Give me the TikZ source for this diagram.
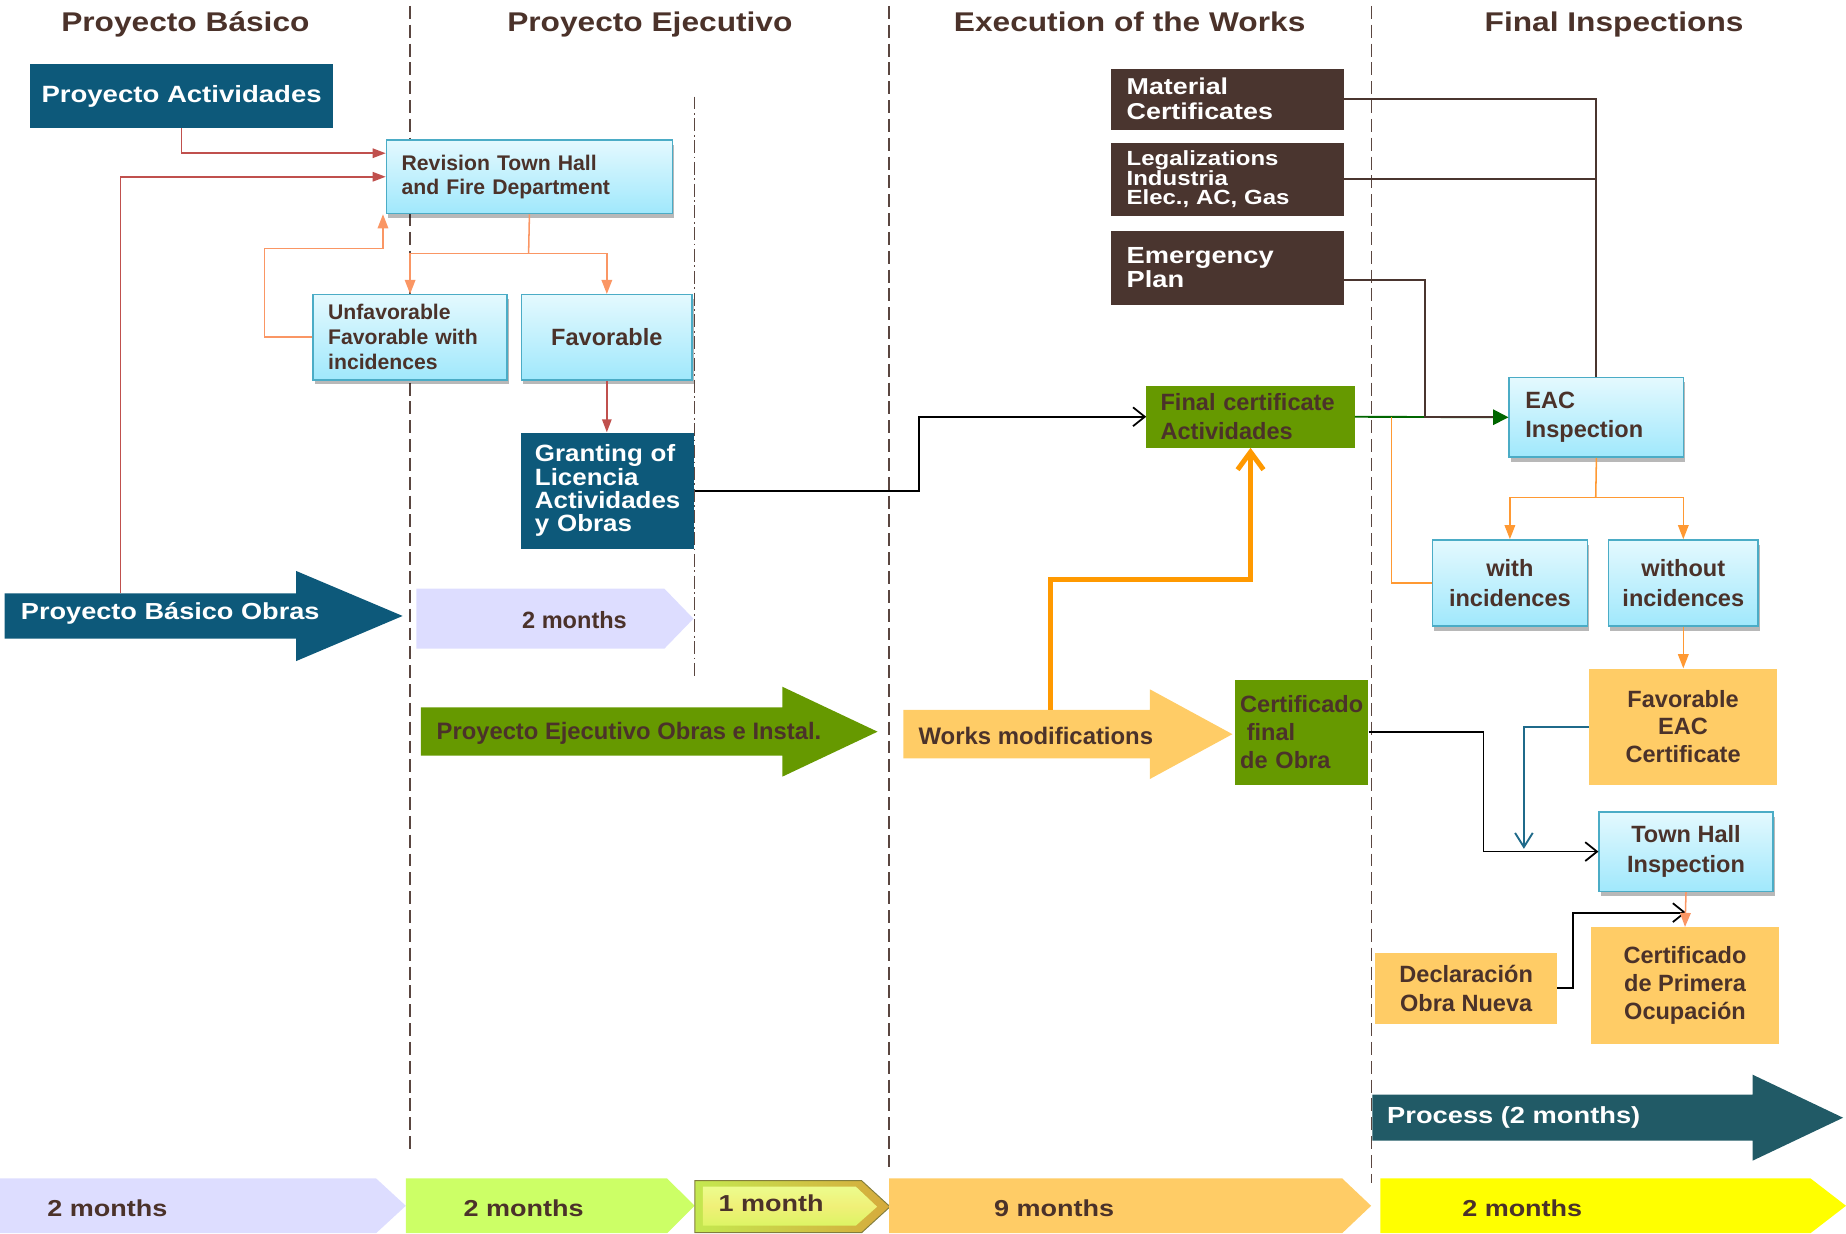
\documentclass[tikz,border=0pt]{standalone}
\usepackage{fontspec}
\setmainfont{Liberation Sans}
\newfontfamily\widefam{Liberation Sans}[FakeStretch=1.17]
\newfontfamily\widefamB{Liberation Sans}[FakeStretch=1.1]
\usetikzlibrary{arrows.meta,shadows}
\newcommand\normF[2]{\bfseries\fontsize{#1}{#2}\selectfont}
\newcommand\wideF[2]{\widefam\bfseries\fontsize{#1}{#2}\selectfont}
\newcommand\wideFB[2]{\widefamB\bfseries\fontsize{#1}{#2}\selectfont}
\definecolor{txt}{RGB}{75,50,42}
\definecolor{teal1}{RGB}{13,89,122}
\definecolor{brownb}{RGB}{74,53,47}
\definecolor{greenb}{RGB}{102,153,0}
\definecolor{orb}{RGB}{255,204,102}
\definecolor{cyant}{RGB}{228,249,254}
\definecolor{cyanbot}{RGB}{160,232,252}
\definecolor{cyanb}{RGB}{75,172,198}
\definecolor{lav}{RGB}{221,221,255}
\definecolor{lgreen}{RGB}{204,255,102}
\definecolor{yel}{RGB}{255,255,0}
\definecolor{proc}{RGB}{33,90,102}
\definecolor{redc}{RGB}{192,80,77}
\definecolor{orc}{RGB}{250,150,100}
\definecolor{orcb}{RGB}{255,153,51}
\definecolor{thor}{RGB}{255,153,0}
\definecolor{bluec}{RGB}{31,106,138}
\definecolor{dkgreen}{RGB}{0,102,0}
\definecolor{dashc}{RGB}{90,70,64}
\begin{document}
\begin{tikzpicture}[x=1pt,y=-1pt,
  hdr/.style={text=txt,font={\wideF{23}{27}},inner sep=0pt,anchor=base},
  cbox/.style={draw=cyanb,line width=1.3pt,top color=cyant,bottom color=cyanbot,
    drop shadow={shadow xshift=1.5pt,shadow yshift=-4pt,opacity=.28,fill=black},
    text=txt,inner ysep=0pt,anchor=north west},
  tbox/.style={fill=teal1,text=white,inner ysep=0pt,anchor=north west},
  bbox/.style={fill=brownb,text=white,inner ysep=0pt,anchor=north west},
  gbox/.style={fill=greenb,text=txt,inner ysep=0pt,anchor=north west},
  obox/.style={fill=orb,text=txt,inner ysep=0pt,anchor=north west},
  lbl/.style={inner sep=0pt},
  dsh/.style={draw=dashc,line width=1.4pt,dash pattern=on 11pt off 5pt},
  dshdot/.style={draw=dashc,line width=1.4pt,dash pattern=on 11pt off 3pt on 1.5pt off 3pt},
  redcon/.style={draw=redc,line width=1.3pt,-{Triangle[length=11pt,width=8pt]}},
  orcon/.style={draw=orc,line width=1.3pt,-{Triangle[length=12pt,width=9pt]}},
  orline/.style={draw=orc,line width=1.3pt},
  orbcon/.style={draw=orcb,line width=1.3pt,-{Triangle[length=12pt,width=9pt]}},
  orbline/.style={draw=orcb,line width=1.3pt},
  blkcon/.style={draw=black,line width=1.5pt,-{Straight Barb[length=10pt,width=16pt]}},
  thickcon/.style={draw=thor,line width=4.2pt,-{Straight Barb[length=15pt,width=22pt]}},
  grncon/.style={draw=dkgreen,line width=1.6pt,-{Triangle[length=13pt,width=13pt]}},
  brnline/.style={draw=brownb,line width=1.6pt},
  bluecon/.style={draw=bluec,line width=1.6pt,-{Straight Barb[length=12pt,width=15pt]}}
]
\useasboundingbox (0,0) rectangle (1568,1048);

% separators
\draw[dsh] (348,5) -- (348,979);
\draw[dsh] (755,5) -- (755,991);
\draw[dsh] (1165,5) -- (1165,1005);
\draw[dshdot] (590,82) -- (590,576);

% headers
\node[hdr] (h1) at (157.5,26.9) {Proyecto Básico};
\node[hdr] (h2) at (552,26.9) {Proyecto Ejecutivo};
\node[hdr] (h3) at (959.5,26.9) {Execution of the Works};
\node[hdr] (h4) at (1371,26.9) {Final Inspections};

% big arrows
\fill[teal1] (3.9,504) -- (251.6,504) -- (251.6,485) -- (342,523.2) -- (251.6,561.5) -- (251.6,542.5) -- (3.9,542.5) -- cycle;
\node[lbl,anchor=west,text=white,font={\wideF{19.7}{24}}] (pbo) at (17.6,521) {Proyecto Básico Obras};
\coordinate (pboT) at (102.2,504);

\fill[lav] (353.7,500) -- (564.3,500) -- (589,525.5) -- (564.3,551) -- (353.7,551) -- cycle;
\node[lbl,text=txt,font={\normF{20}{24}}] (m2a) at (488,527) {2 months};

\fill[greenb] (357.4,600.8) -- (664.5,600.8) -- (664.5,583.3) -- (745.4,621.5) -- (664.5,659.7) -- (664.5,641.9) -- (357.4,641.9) -- cycle;
\node[lbl,anchor=west,text=txt,font={\normF{20.2}{24}}] (peo) at (370.7,623) {Proyecto Ejecutivo Obras e Instal.};

\fill[orb] (767.4,603) -- (976.7,603) -- (976.7,585.5) -- (1046.8,623.6) -- (976.7,661.7) -- (976.7,644.1) -- (767.4,644.1) -- cycle;
\node[lbl,anchor=west,text=txt,font={\normF{20.3}{24}}] (wm) at (780,625.5) {Works modifications};
\coordinate (wmT) at (891.9,603);

\fill[proc] (1165.6,929.8) -- (1488.6,929.8) -- (1488.6,912.8) -- (1565.5,949.4) -- (1488.6,985.9) -- (1488.6,968.9) -- (1165.6,968.9) -- cycle;
\node[lbl,anchor=west,text=white,font={\wideF{19.8}{24}}] (pr) at (1178.1,949.5) {Process (2 months)};

% timeline
\fill[lav] (0,1000.9) -- (319.4,1000.9) -- (344.7,1024.2) -- (319.4,1047.5) -- (0,1047.5) -- cycle;
\fill[lgreen] (344.8,1000.9) -- (566.6,1000.9) -- (590,1024.2) -- (566.6,1047.5) -- (344.8,1047.5) -- cycle;
\shade[left color={rgb,255:red,196;green,232;blue,80},right color={rgb,255:red,214;green,170;blue,60},draw={rgb,255:red,130;green,125;blue,60},line width=.8pt] (590.3,1002.9) -- (731.9,1002.9) -- (756,1025) -- (731.9,1047) -- (590.3,1047) -- cycle;
\shade[top color={rgb,255:red,236;green,252;blue,140},bottom color={rgb,255:red,220;green,245;blue,100},middle color={rgb,255:red,240;green,240;blue,120}] (597,1008) -- (727,1008) -- (745,1025) -- (727,1041) -- (597,1041) -- cycle;
\fill[orb] (755.3,1000.9) -- (1140,1000.9) -- (1164.6,1024.2) -- (1140,1047.5) -- (755.3,1047.5) -- cycle;
\fill[yel] (1172.4,1000.9) -- (1537.8,1000.9) -- (1568,1024.2) -- (1537.8,1047.5) -- (1172.4,1047.5) -- cycle;
\node[lbl,text=txt,font={\wideF{19.6}{24}}] (t1) at (91.2,1026) {2 months};
\node[lbl,text=txt,font={\wideF{19.6}{24}}] (t2) at (444.7,1026) {2 months};
\node[lbl,text=txt,font={\wideF{19.6}{24}}] (t3) at (654.9,1022) {1 month};
\node[lbl,text=txt,font={\wideF{19.6}{24}}] (t4) at (895.3,1026.5) {9 months};
\node[lbl,text=txt,font={\wideF{19.6}{24}}] (t5) at (1293,1026.5) {2 months};

% boxes
\node[tbox,minimum width=257.5pt,minimum height=54.1pt,align=center,font={\wideF{20}{24}}] (pa) at (25.3,54.4) {Proyecto Actividades};
\node[cbox,minimum height=62.4pt,text width=217.1pt,inner xsep=12.9pt,align=left,font={\normF{18}{20.6}}] (rev) at (327.6,118.3) {Revision Town Hall\\and Fire Department};
\node[cbox,minimum height=72.2pt,text width=139.2pt,inner xsep=12.9pt,align=left,font={\normF{18}{21.2}}] (unf) at (265.2,249.7) {Unfavorable\\Favorable with\\incidences};
\node[cbox,minimum width=145pt,minimum height=72.2pt,align=center,font={\normF{20}{24}}] (fav) at (442.3,249.7) {Favorable};
\node[tbox,minimum height=98.8pt,text width=124pt,inner xsep=11.5pt,align=left,font={\wideFB{20}{19.7}}] (gra) at (442.7,367.2) {Granting of\\Licencia\\Actividades\\y Obras};

\node[bbox,minimum height=52pt,text width=171.1pt,inner xsep=13.1pt,align=left,font={\wideF{19.5}{21.2}}] (mc) at (943.7,58) {Material\\Certificates};
\node[bbox,minimum height=62.3pt,text width=171.1pt,inner xsep=13.1pt,align=left,font={\wideF{17.4}{16.7}}] (lg) at (943.7,120.9) {Legalizations\\Industria\\Elec., AC, Gas};
\node[bbox,minimum height=62.3pt,text width=171.1pt,inner xsep=13.1pt,align=left,font={\wideF{19.8}{20.7}}] (ep) at (943.7,196.2) {Emergency\\Plan};

\node[gbox,minimum height=52.4pt,text width=152.8pt,inner xsep=12pt,align=left,font={\normF{20}{24.9}}] (fc) at (973.6,327.6) {Final certificate\\Actividades};
\node[cbox,minimum height=67.6pt,text width=120.7pt,inner xsep=13.7pt,align=left,font={\normF{20}{24.3}}] (eac) at (1281.3,320) {EAC\\Inspection};
\node[cbox,minimum width=131.7pt,minimum height=72.9pt,align=center,font={\normF{20}{25.6}}] (wi) at (1216,458) {with\\incidences};
\node[cbox,minimum width=127.1pt,minimum height=72.9pt,align=center,font={\normF{20}{25.6}}] (wo) at (1365.6,458) {without\\incidences};
\node[obox,minimum width=160pt,minimum height=98.5pt,align=center,font={\normF{20}{23.3}}] (feac) at (1349.4,567.7) {Favorable\\EAC\\Certificate};
\node[gbox,minimum height=89.2pt,text width=104.5pt,inner xsep=4.3pt,align=left,font={\normF{20}{23.8}}] (cfo) at (1048.9,577) {Certificado\\\hspace*{5.6pt}final\\de Obra};
\node[cbox,minimum width=147.5pt,minimum height=67.6pt,align=center,font={\normF{20}{25}}] (th) at (1357.7,688.9) {Town Hall\\Inspection};
\node[obox,minimum width=154.1pt,minimum height=60pt,align=center,font={\normF{20}{24.6}}] (dec) at (1168.1,809.2) {Declaración\\Obra Nueva};
\node[obox,minimum width=160.3pt,minimum height=98.8pt,align=center,font={\normF{20}{23.7}}] (cpo) at (1350.9,787.4) {Certificado\\de Primera\\Ocupación};

% connectors, left part
\draw[redcon] (pa.south) |- ([yshift=20pt]rev.west);
\draw[redcon] (pboT) |- (rev.west);
\coordinate (rj) at (449,215.2);
\draw[orline] (rev.south) -- (rj);
\draw[orcon] (rj) -| (unf.north);
\draw[orcon] (rj) -| (fav.north);
\coordinate (u1) at (224.6,211.2);
\draw[orcon] (unf.west) -| (u1) -| ([xshift=-2.3pt]rev.south west);
\draw[redcon] (fav.south) -- (fav.south |- gra.north);
\coordinate (gx) at (780.6,0);
\draw[blkcon] (gra.east) -- (gra.east -| gx) |- (fc.west);
\draw[thickcon] (wmT) -- ++(0,-110.9) -| (fc.south);

% right part
\draw[grncon] (fc.east) -- (eac.west);
\draw[brnline] (mc.east) -| (eac.north);
\draw[brnline] (lg.east) -- (lg.east -| eac.north);
\coordinate (epx) at (1210.2,0);
\draw[brnline] ([yshift=-10pt]ep.east) -- ([yshift=-10pt]ep.east -| epx) -- (epx |- eac.west) -- ([xshift=-13pt]eac.west);
\coordinate (wx) at (1181.9,0);
\draw[orbline] (wi.west) -| (wx |- fc.east);
\coordinate (ej) at (1355.4,422.7);
\draw[orbline] (eac.south) -- (ej);
\draw[orbcon] (ej) -| (wi.north);
\draw[orbcon] (ej) -| (wo.north);
\draw[orbcon] (wo.south) -- (wo.south |- feac.north);
\coordinate (fx) at (1294.4,721);
\draw[bluecon] (feac.west) -| (fx);
\coordinate (cx) at (1260.1,0);
\draw[blkcon] (cfo.east) -- (cfo.east -| cx) |- (th.west);
\coordinate (d1) at (1335.8,775.2);
\draw[blkcon] (dec.east) -| (d1) -- (d1 -| th.south);
\draw[orcon] (th.south) -- (cpo.north);
\end{tikzpicture}
\end{document}
